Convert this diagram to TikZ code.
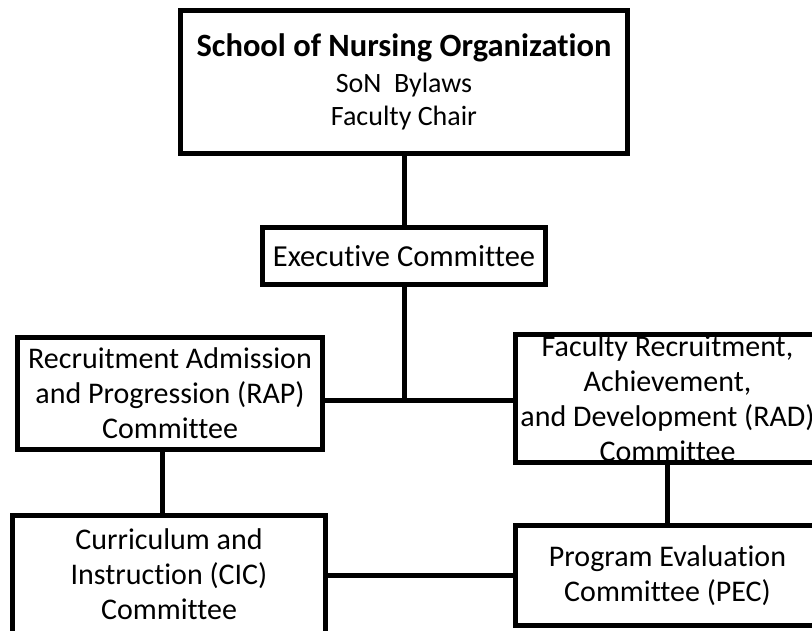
\documentclass[tikz,border=0pt]{standalone}
\usepackage{fontspec}
\setmainfont{Carlito}[Ligatures=NoCommon]
\tikzset{
  orgbox/.style={draw, line width=5pt, rectangle, inner sep=0pt, align=center,
    font=\fontsize{30}{35}\selectfont},
  orgline/.style={line width=5pt}
}
\begin{document}
\begin{tikzpicture}[x=1pt,y=1pt]
        % Frame
        \useasboundingbox (0,0) rectangle (812,630);
        \clip (0,0) rectangle (812,630);

        % Top box
        \node[orgbox, minimum width=447pt, minimum height=143.5pt,
              font=\fontsize{28}{33}\selectfont] (son) at (404,547.75)
              {{\fontsize{32.5}{36}\selectfont\bfseries School of Nursing Organization}\\[3pt]
               SoN\ \ Bylaws\\ Faculty Chair};

        % Executive
        \node[orgbox, minimum width=283pt, minimum height=57pt,
              font=\fontsize{30.5}{36}\selectfont] (exec) at (404,374)
              {Executive Committee};

        % Middle row
        \node[orgbox, minimum width=305pt, minimum height=112pt] (rap) at (170,236.5)
              {Recruitment Admission\\ and Progression (RAP)\\ Committee};
        \node[orgbox, minimum width=304pt, minimum height=128pt] (rad) at (667.5,231.5)
              {Faculty Recruitment,\\ Achievement,\\ and Development (RAD)\\ Committee};

        % Bottom row
        \node[orgbox, minimum width=313pt, minimum height=117.5pt] (cic) at (169,55.75)
              {Curriculum and\\ Instruction (CIC)\\ Committee};
        \node[orgbox, minimum width=304pt, minimum height=100pt] (pec) at (667.5,54.5)
              {Program Evaluation\\ Committee (PEC)};

        % Connectors
        \coordinate (jn) at (404.5,229.5);
        \draw[orgline] (son.south) -- (exec.north);
        \draw[orgline] (exec.south) -- (exec.south |- jn);
        \draw[orgline] (rap.east |- jn) -- (rad.west |- jn);
        \draw[orgline] ([xshift=-7.5pt]rap.south) -- ([xshift=-7.5pt]rap.south |- cic.north);
        \draw[orgline] (rad.south) -- (pec.north);
        \draw[orgline] (cic.east |- pec.west) -- (pec.west);
\end{tikzpicture}
\end{document}
